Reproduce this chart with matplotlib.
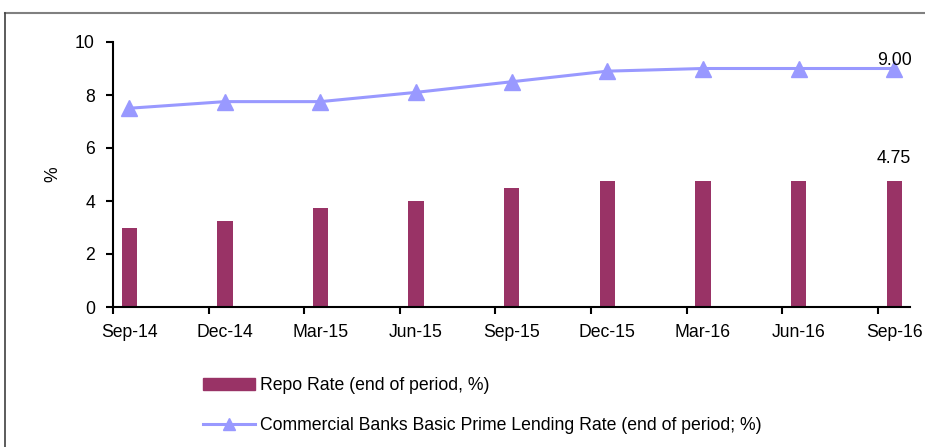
import matplotlib.pyplot as plt
import numpy as np
from matplotlib.lines import Line2D
from matplotlib.patches import Patch

# Quarterly rates, end of period
periods = ["Sep-14", "Dec-14", "Mar-15", "Jun-15", "Sep-15",
           "Dec-15", "Mar-16", "Jun-16", "Sep-16"]
repo_rate = [3.0, 3.25, 3.75, 4.0, 4.5, 4.75, 4.75, 4.75, 4.75]
prime_rate = [7.5, 7.75, 7.75, 8.1, 8.5, 8.9, 9.0, 9.0, 9.0]

plt.rcParams['font.family'] = ['Liberation Sans', 'DejaVu Sans']

bar_col = '#993366'
line_col = '#9999FF'
fs = 12.7

fig = plt.figure(figsize=(9.25, 4.47), dpi=100)
ax = fig.add_axes([113 / 925, 1 - 307 / 447, 797 / 925, 265 / 447])

x = np.arange(len(periods))
ax.bar(x, repo_rate, width=0.16, color=bar_col, zorder=2)
ax.plot(x, prime_rate, color=line_col, lw=2.2, marker='^', markersize=11,
        zorder=3)

# value labels on the last point of each series
ax.annotate(f"{prime_rate[-1]:.2f}", (x[-1], prime_rate[-1]), xytext=(0, 5.5),
            textcoords='offset points', ha='center', va='center', fontsize=fs)
ax.annotate(f"{repo_rate[-1]:.2f}", (x[-1], repo_rate[-1]), xytext=(0, 16),
            textcoords='offset points', ha='center', va='center', fontsize=fs)

ax.set_xlim(-0.17, 8.165)
ax.set_ylim(0, 10)
ax.set_yticks(range(0, 11, 2))
ax.tick_params(axis='y', labelsize=fs, direction='out', length=5, width=1.5,
               pad=8)

# tick marks sit between categories, labels under each point
ax.set_xticks(x - 0.17)
ax.set_xticklabels([])
ax.tick_params(axis='x', which='major', direction='out', length=5, width=1.5)
ax.set_xticks(x, minor=True)
ax.set_xticklabels(periods, minor=True)
ax.tick_params(axis='x', which='minor', length=0, labelsize=fs, pad=12)

for s in ['top', 'right']:
    ax.spines[s].set_visible(False)
for s in ['left', 'bottom']:
    ax.spines[s].set_linewidth(1.5)

ax.set_ylabel("%", fontsize=fs, labelpad=10)

handles = [Patch(color=bar_col),
           Line2D([], [], color=line_col, lw=2.2, marker='^', markersize=8)]
labels = ["Repo Rate (end of period, %)",
          "Commercial Banks Basic Prime Lending Rate (end of period; %)"]
fig.legend(handles, labels, loc='upper left', bbox_to_anchor=(187 / 925, 1 - 361 / 447),
           frameon=False, fontsize=fs, handlelength=2.95, handletextpad=0.28,
           labelspacing=1.3)

# outer frame
fig.add_artist(plt.Line2D([5 / 925, 1], [1 - 13 / 447] * 2, color='#808080',
                          lw=1.5, transform=fig.transFigure))
fig.add_artist(plt.Line2D([5 / 925] * 2, [0, 1 - 13 / 447], color='#404040',
                          lw=1.2, transform=fig.transFigure))

fig.savefig("out.png", dpi=100)
